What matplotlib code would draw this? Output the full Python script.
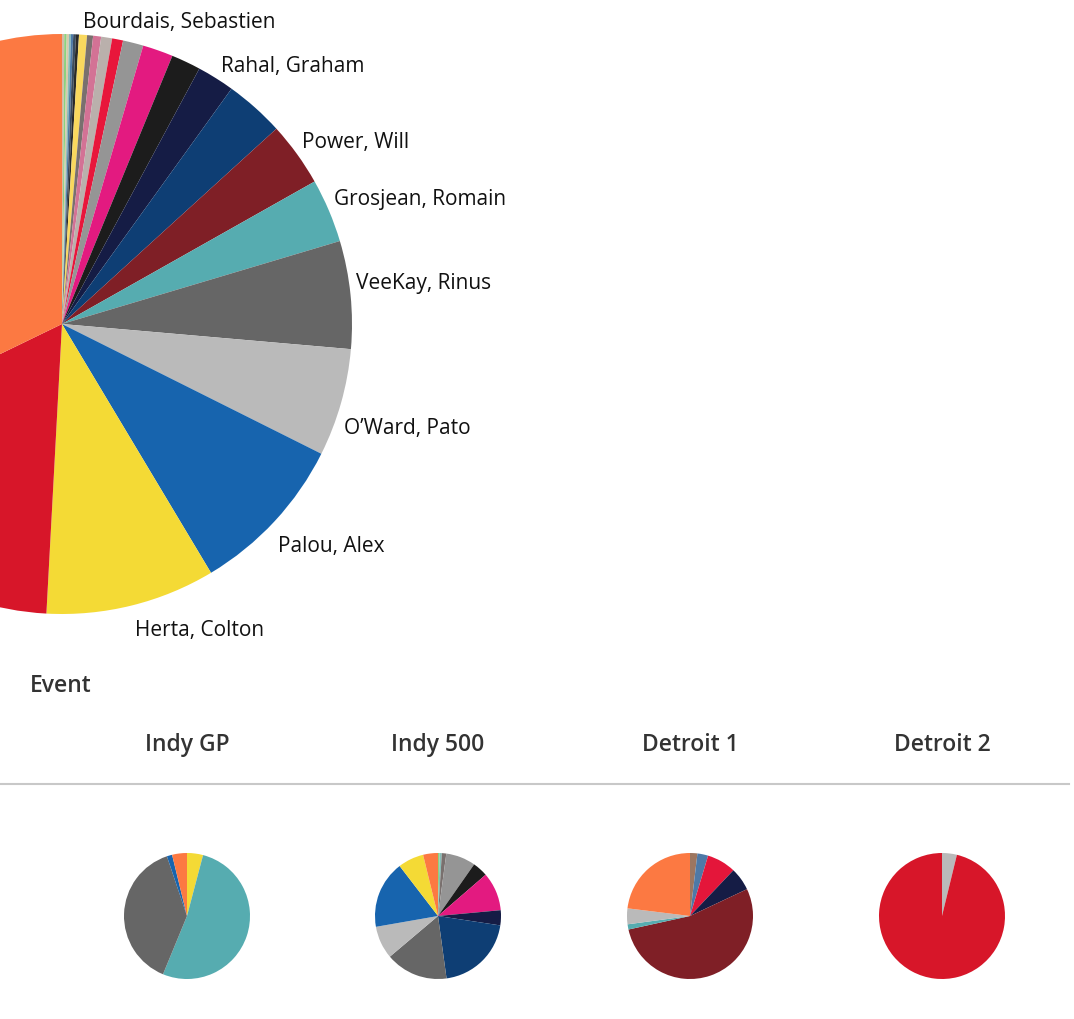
import numpy as np
import matplotlib.pyplot as plt

plt.rcParams['font.family'] = ['Open Sans', 'DejaVu Sans']

# big pie: share of laps led (in degrees of the circle), clockwise from 12 o'clock
big_values = [0.45, 0.48, 0.45, 0.4, 0.45, 0.54, 0.6, 1.6, 1.2, 1.6, 2.2, 2.2, 4.1,
              6.1, 5.9, 7.5, 11.9, 12.9, 12.8, 21.6, 21.6, 32.5, 34.0, 61.0, 115.9]
big_colors = ['#D2BBA8', '#8CD17D', '#D8CBA9', '#86BCB6', '#4E79A7', '#3A4A5C', '#2A2A2A',
              '#F9D85E', '#79706E', '#D37295', '#BAB0AC', '#E8163B', '#959595',
              '#E31A80', '#1C1C1C', '#151C45', '#0E3E74', '#7F1F26', '#56ACB0',
              '#666666', '#BABABA', '#1764AE', '#F4DA35', '#D71629', '#FC7942']
big_labels = ['', '', '', '', '', '', 'Bourdais, Sebastien', '', '', '', '', '', '',
              '', '', 'Rahal, Graham', '', 'Power, Will', 'Grosjean, Romain',
              'VeeKay, Rinus', 'O\u2019Ward, Pato', 'Palou, Alex', 'Herta, Colton', '', '']

events = ['Indy GP', 'Indy 500', 'Detroit 1', 'Detroit 2']
gp_values = [14.8, 187.6, 139.0, 4.9, 13.7]
gp_colors = ['#F4DA35', '#56ACB0', '#666666', '#1764AE', '#FC7942']
i500_values = [1.5, 2.0, 4.1, 27.4, 14.1, 35.6, 13.9, 73.6, 57.6, 30.3, 62.4, 23.8, 13.7]
i500_colors = ['#8CD17D', '#86BCB6', '#79706E', '#959595', '#1C1C1C', '#E31A80', '#151C45',
               '#0E3E74', '#666666', '#BABABA', '#1764AE', '#F4DA35', '#FC7942']
det1_values = [6.8, 9.9, 26.8, 21.3, 192.8, 4.8, 14.6, 83.0]
det1_colors = ['#9D7660', '#4E79A7', '#E4163A', '#151C45', '#7F1F26', '#56ACB0', '#BABABA', '#FC7942']
det2_values = [13.7, 346.3]
det2_colors = ['#BABABA', '#D71629']

W, H = 1074, 1020
fig = plt.figure(figsize=(W / 100, H / 100), dpi=100)
ax = fig.add_axes([0, 0, 1, 1])

wp = dict(linewidth=0)
cx, cy, R = 62, H - 325, 290
ax.pie(big_values, colors=big_colors, center=(cx, cy), radius=R,
       startangle=90, counterclock=False, wedgeprops=wp)

# labels sit on the rim at each slice's mid angle
cum = np.cumsum(big_values) - np.array(big_values) / 2
total = sum(big_values)
for lab, mid in zip(big_labels, cum):
    if not lab:
        continue
    th = np.deg2rad(mid / total * 360)
    x = cx + R * np.sin(th)
    y = cy + R * np.cos(th)
    if mid / total * 360 < 90:
        ax.text(x + 5, y + 2, lab, ha='left', va='bottom', fontsize=15, color='#111111')
    else:
        ax.text(x + 3, y - 14, lab, ha='left', va='top', fontsize=15, color='#111111')

small = [(gp_values, gp_colors), (i500_values, i500_colors),
         (det1_values, det1_colors), (det2_values, det2_colors)]
col_x = [187, 438, 690, 942]
for (vals, cols), x0, name in zip(small, col_x, events):
    ax.pie(vals, colors=cols, center=(x0, H - 917), radius=63,
           startangle=90, counterclock=False, wedgeprops=wp)
    ax.text(x0, H - 745, name, ha='center', va='center', fontsize=16.5,
            fontweight='semibold', color='#333333')

ax.text(30, H - 686, 'Event', ha='left', va='center', fontsize=16.5,
        fontweight='semibold', color='#333333')
ax.plot([0, 1069], [H - 785, H - 785], color='#C8C8C8', lw=1.5)

ax.set_xlim(0, W)
ax.set_ylim(0, H)
ax.set_aspect('equal')
ax.axis('off')

fig.savefig('out.png', dpi=100)
